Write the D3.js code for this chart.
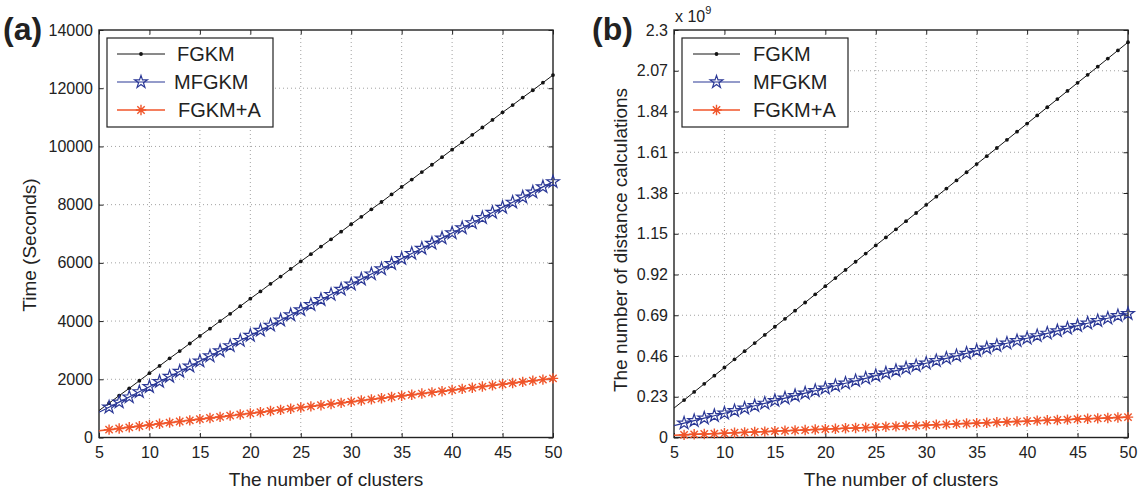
<!DOCTYPE html>
<html>
<head>
<meta charset="utf-8">
<script src="https://cdn.jsdelivr.net/npm/d3@7"></script>
<style>
  html, body { margin: 0; padding: 0; background: #fff; }
  svg { display: block; font-family: "Liberation Sans", Arial, sans-serif; }
</style>
</head>
<body>
<svg id="chart" width="1144" height="489"></svg>
<script>
// Number of clusters (line runs from 5, markers from 6)
const clusters = [5,6,7,8,9,10,11,12,13,14,15,16,17,18,19,20,21,22,23,24,25,26,27,28,29,30,
                  31,32,33,34,35,36,37,38,39,40,41,42,43,44,45,46,47,48,49,50];

// (a) running time in seconds
const timeFGKM = [926,1180,1440,1690,1950,2210,2460,2720,2970,3230,3490,3740,4000,4250,4510,4770,
                  5020,5280,5530,5790,6050,6300,6560,6810,7070,7330,7580,7840,8090,8350,8610,8860,
                  9120,9370,9630,9890,10140,10400,10650,10910,11170,11420,11680,11930,12190,12450];
const timeMFGKM = [865,1040,1215,1390,1570,1745,1920,2095,2270,2450,2625,2800,2975,3150,3330,3505,
                   3680,3855,4030,4210,4385,4560,4735,4910,5090,5265,5440,5615,5790,5970,6145,6320,
                   6495,6670,6850,7025,7200,7375,7550,7730,7905,8080,8255,8430,8610,8785];
const timeFGKMA = [230,270,310,350,390,430,470,510,550,590,630,670,710,750,790,830,870,910,950,990,
                   1030,1070,1110,1150,1190,1230,1270,1310,1350,1390,1430,1470,1510,1550,1590,1630,
                   1670,1710,1750,1790,1830,1870,1910,1950,1990,2030];

// (b) distance calculations, in units of 10^9
const distFGKM = [0.166,0.211,0.257,0.303,0.349,0.395,0.441,0.487,0.533,0.579,0.625,0.670,0.716,0.762,
                  0.808,0.854,0.900,0.946,0.992,1.038,1.084,1.129,1.175,1.221,1.267,1.313,1.359,1.405,
                  1.451,1.497,1.543,1.588,1.634,1.680,1.726,1.772,1.818,1.864,1.910,1.956,2.002,2.047,
                  2.093,2.139,2.185,2.231];
const distMFGKM = [0.067,0.081,0.095,0.109,0.123,0.137,0.151,0.165,0.179,0.193,0.208,0.222,0.236,0.250,
                   0.264,0.278,0.292,0.306,0.320,0.334,0.349,0.363,0.377,0.391,0.405,0.419,0.433,0.447,
                   0.461,0.475,0.490,0.504,0.518,0.532,0.546,0.560,0.574,0.588,0.602,0.616,0.631,0.645,
                   0.659,0.673,0.687,0.699];
const distFGKMA = [0.013,0.015,0.018,0.020,0.022,0.024,0.027,0.029,0.031,0.033,0.036,0.038,0.040,0.042,
                   0.045,0.047,0.049,0.052,0.054,0.056,0.058,0.061,0.063,0.065,0.067,0.070,0.072,0.074,
                   0.077,0.079,0.081,0.083,0.086,0.088,0.090,0.092,0.095,0.097,0.099,0.101,0.104,0.106,
                   0.108,0.110,0.113,0.115];

const seriesNames = ["FGKM", "MFGKM", "FGKM+A"];
const xTicks = [5,10,15,20,25,30,35,40,45,50];
const timeTicks = [0,2000,4000,6000,8000,10000,12000,14000];
const distTicks = [0,0.23,0.46,0.69,0.92,1.15,1.38,1.61,1.84,2.07,2.3];
const distTickLabels = ["0","0.23","0.46","0.69","0.92","1.15","1.38","1.61","1.84","2.07","2.3"];

const styles = [
  { color: "#141414", width: 1.0, marker: "dot" },
  { color: "#2b3896", width: 1.2, marker: "star" },
  { color: "#f0552a", width: 1.6, marker: "asterisk" }
];

const svg = d3.select("#chart");

// Marker drawing helpers
function drawMarker(g, kind, color) {
  if (kind === "dot") {
    g.append("circle").attr("r", 1.9).attr("fill", color);
  } else if (kind === "star") {
    g.append("path").attr("d", d3.symbol(d3.symbolStar, 50)())
      .attr("fill", "none").attr("stroke", color).attr("stroke-width", 1.2)
      .attr("stroke-linejoin", "miter");
  } else {
    const r = 5.2, p = d3.path();
    for (let k = 0; k < 4; k++) {
      const a = k * Math.PI / 4;
      p.moveTo(-r * Math.cos(a), -r * Math.sin(a));
      p.lineTo(r * Math.cos(a), r * Math.sin(a));
    }
    g.append("path").attr("d", p.toString()).attr("fill", "none")
      .attr("stroke", color).attr("stroke-width", 1.4);
  }
}

function panel(opts) {
  const { left, top, width, height, yMax, yTicks, yLabels, ys, yTitle, yTitleX, yTitleY,
          tag, tagX, legendX, lineX0, lineX1, textX } = opts;
  const g = svg.append("g");
  const x = d3.scaleLinear().domain([5, 50]).range([left, left + width]);
  const y = d3.scaleLinear().domain([0, yMax]).range([top + height, top]);

  // dotted grid
  const grid = g.append("g").attr("stroke", "#8a8a8a").attr("stroke-width", 0.8)
    .attr("stroke-dasharray", "1,3");
  xTicks.slice(1, -1).forEach(t => grid.append("line")
    .attr("x1", x(t)).attr("x2", x(t)).attr("y1", top).attr("y2", top + height));
  yTicks.slice(1, -1).forEach(t => grid.append("line")
    .attr("x1", left).attr("x2", left + width).attr("y1", y(t)).attr("y2", y(t)));

  // axes with inward ticks on all four sides
  const tl = 4.5;
  const xb = g.append("g").attr("transform", `translate(0,${top + height})`)
    .call(d3.axisBottom(x).tickValues(xTicks).tickSize(-tl).tickPadding(9).tickFormat(d3.format("d")));
  const xt = g.append("g").attr("transform", `translate(0,${top})`)
    .call(d3.axisTop(x).tickValues(xTicks).tickSize(-tl).tickFormat(""));
  const yl = g.append("g").attr("transform", `translate(${left},0)`)
    .call(d3.axisLeft(y).tickValues(yTicks).tickSize(-tl).tickPadding(6)
      .tickFormat((d, i) => yLabels[i]));
  const yr = g.append("g").attr("transform", `translate(${left + width},0)`)
    .call(d3.axisRight(y).tickValues(yTicks).tickSize(-tl).tickFormat(""));
  [xb, xt, yl, yr].forEach(a => {
    a.select(".domain").remove();
    a.selectAll(".tick line").attr("stroke", "#222").attr("stroke-width", 1);
    a.selectAll("text").attr("font-size", 16).attr("fill", "#222")
      .attr("font-family", "'Liberation Sans', Arial, sans-serif");
  });

  // frame
  g.append("rect").attr("x", left).attr("y", top).attr("width", width).attr("height", height)
    .attr("fill", "none").attr("stroke", "#222").attr("stroke-width", 1.4);

  // series lines and markers
  ys.forEach((vals, i) => {
    const st = styles[i];
    const pts = clusters.map((c, j) => [c, vals[j]]);
    g.append("path").datum(pts)
      .attr("d", d3.line().x(d => x(d[0])).y(d => y(d[1])))
      .attr("fill", "none").attr("stroke", st.color).attr("stroke-width", st.width);
    pts.filter(d => d[0] >= 6).forEach(d => {
      const m = g.append("g").attr("transform", `translate(${x(d[0])},${y(d[1])})`);
      drawMarker(m, st.marker, st.color);
    });
  });

  // legend
  const lg = g.append("g");
  lg.append("rect").attr("x", legendX).attr("y", 38).attr("width", 166).attr("height", 89)
    .attr("fill", "#fff").attr("stroke", "#222").attr("stroke-width", 1.2);
  const rows = [54, 82, 110];
  seriesNames.forEach((name, i) => {
    const st = styles[i];
    lg.append("line").attr("x1", lineX0).attr("x2", lineX1).attr("y1", rows[i]).attr("y2", rows[i])
      .attr("stroke", st.color).attr("stroke-width", st.width);
    const m = lg.append("g").attr("transform", `translate(${(lineX0 + lineX1) / 2},${rows[i]})`);
    drawMarker(m, st.marker, st.color);
    lg.append("text").attr("x", textX[i]).attr("y", rows[i] + 7).attr("font-size", 20)
      .attr("fill", "#222").text(name);
  });

  // axis titles
  g.append("text").attr("x", left + width / 2).attr("y", 486).attr("text-anchor", "middle")
    .attr("font-size", 19).attr("fill", "#222").text("The number of clusters");
  g.append("text").attr("transform", `translate(${yTitleX},${yTitleY}) rotate(-90)`)
    .attr("text-anchor", "middle").attr("font-size", 19).attr("fill", "#222").text(yTitle);

  // panel tag
  g.append("text").attr("x", tagX).attr("y", 40).attr("font-size", 32).attr("font-weight", "bold")
    .attr("fill", "#222").text(tag);
  return g;
}

panel({
  left: 99, top: 30, width: 454, height: 407.5, yMax: 14000,
  yTicks: timeTicks, yLabels: timeTicks.map(String),
  ys: [timeFGKM, timeMFGKM, timeFGKMA],
  yTitle: "Time (Seconds)", yTitleX: 36, yTitleY: 245,
  tag: "(a)", tagX: 3, legendX: 107, lineX0: 117, lineX1: 165, textX: [177, 174, 178]
});

const pb = panel({
  left: 674, top: 30, width: 454, height: 407.5, yMax: 2.3,
  yTicks: distTicks, yLabels: distTickLabels,
  ys: [distFGKM, distMFGKM, distFGKMA],
  yTitle: "The number of distance calculations", yTitleX: 627, yTitleY: 240,
  tag: "(b)", tagX: 592, legendX: 682, lineX0: 693, lineX1: 740, textX: [753, 753, 753]
});

// exponent label for the distance axis
const ex = pb.append("text").attr("x", 675).attr("y", 22).attr("font-size", 16).attr("fill", "#222");
ex.append("tspan").text("x 10");
ex.append("tspan").attr("dy", -8).attr("font-size", 11).text("9");
</script>
</body>
</html>
